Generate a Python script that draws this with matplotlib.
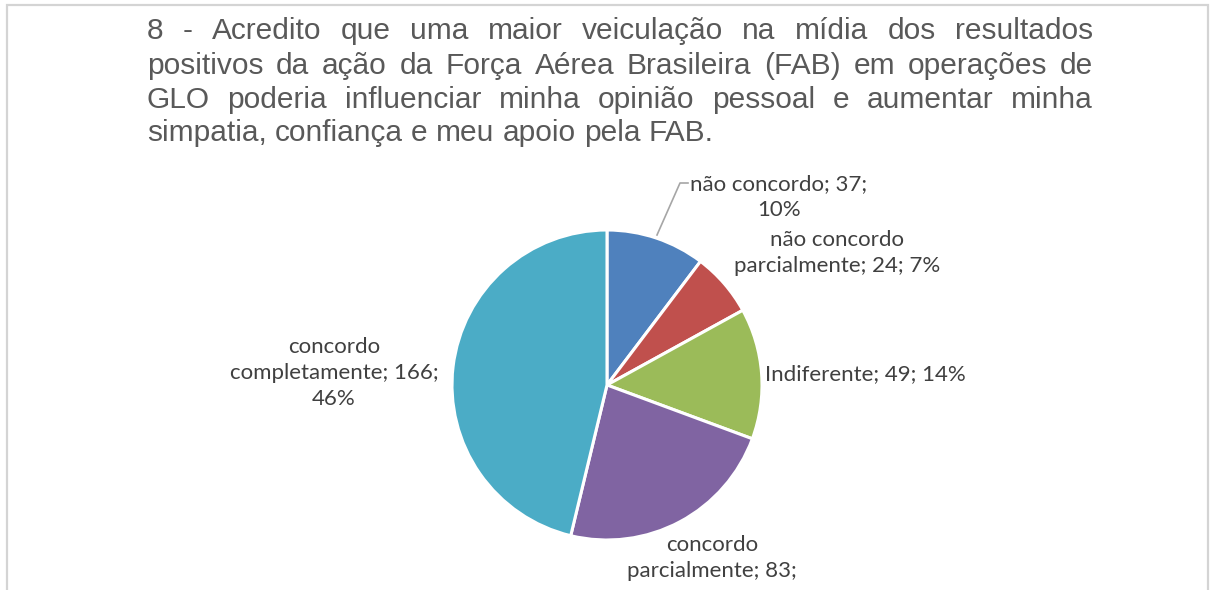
import matplotlib
matplotlib.use("Agg")
import matplotlib.pyplot as plt
from matplotlib.patches import Rectangle
from matplotlib.lines import Line2D

categories = ["não concordo", "não concordo parcialmente", "Indiferente",
              "concordo parcialmente", "concordo completamente"]
values = [37, 24, 49, 83, 166]
percents = ["10%", "7%", "14%", "23%", "46%"]
colors = ["#4F81BD", "#C0504D", "#9BBB59", "#8064A2", "#4BACC6"]
title_lines = [
    "8 - Acredito que uma maior veiculação na mídia dos resultados",
    "positivos da ação da Força Aérea Brasileira (FAB) em operações de",
    "GLO poderia influenciar minha opinião pessoal e aumentar minha",
    "simpatia, confiança e meu apoio pela FAB.",
]

W, H = 1211, 590
fig = plt.figure(figsize=(W / 100, H / 100), dpi=100)
ax = fig.add_axes([0, 0, 1, 1])

def Y(y):
    return H - y

# pie
ax.pie(values, colors=colors, startangle=90, counterclock=False,
       center=(607, Y(385)), radius=155, frame=True,
       wedgeprops=dict(edgecolor="white", linewidth=2.2))
ax.set_xlim(0, W)
ax.set_ylim(0, H)
ax.set_aspect("equal")
ax.axis("off")

# frame
ax.add_patch(Rectangle((7, Y(600)), 1201, 595, fill=False, edgecolor="#d4d4d4", lw=1.6))

# title, justified
title_font = dict(family="Liberation Sans", fontsize=21.5, color="#595959")
fig.canvas.draw()
r = fig.canvas.get_renderer()

def width(s):
    t = ax.text(0, 0, s, **title_font)
    w = t.get_window_extent(r).width
    t.remove()
    return w

left, right = 147, 1093
baselines = [39, 74, 108, 141]
space = width("a a") - width("aa")
for i, line in enumerate(title_lines):
    words = line.split(" ")
    widths = [width(w) for w in words]
    if i < len(title_lines) - 1:
        gap = (right - left - sum(widths)) / (len(words) - 1)
    else:
        gap = space
    x = left
    for w, wd in zip(words, widths):
        ax.text(x, Y(baselines[i]), w, ha="left", va="baseline", **title_font)
        x += wd + gap

lab = dict(family="Lato", fontsize=16.0, color="#404040", ha="center",
           va="center", linespacing=1.4)
ax.text(779, Y(197), f"{categories[0]}; {values[0]};\n{percents[0]}", **lab)
ax.text(837, Y(253), f"não concordo\nparcialmente; {values[1]}; {percents[1]}", **lab)
ax.text(865, Y(374), f"{categories[2]}; {values[2]}; {percents[2]}", **lab)
ax.text(334, Y(373), f"concordo\ncompletamente; {values[4]};\n{percents[4]}", **lab)
ax.text(712, Y(558), f"concordo\nparcialmente; {values[3]};", **lab)

# leader line
ax.add_line(Line2D([688, 680, 657], [Y(183), Y(183), Y(235)], color="#a6a6a6", lw=1.2))

fig.savefig("out.png", dpi=100, facecolor="white")
